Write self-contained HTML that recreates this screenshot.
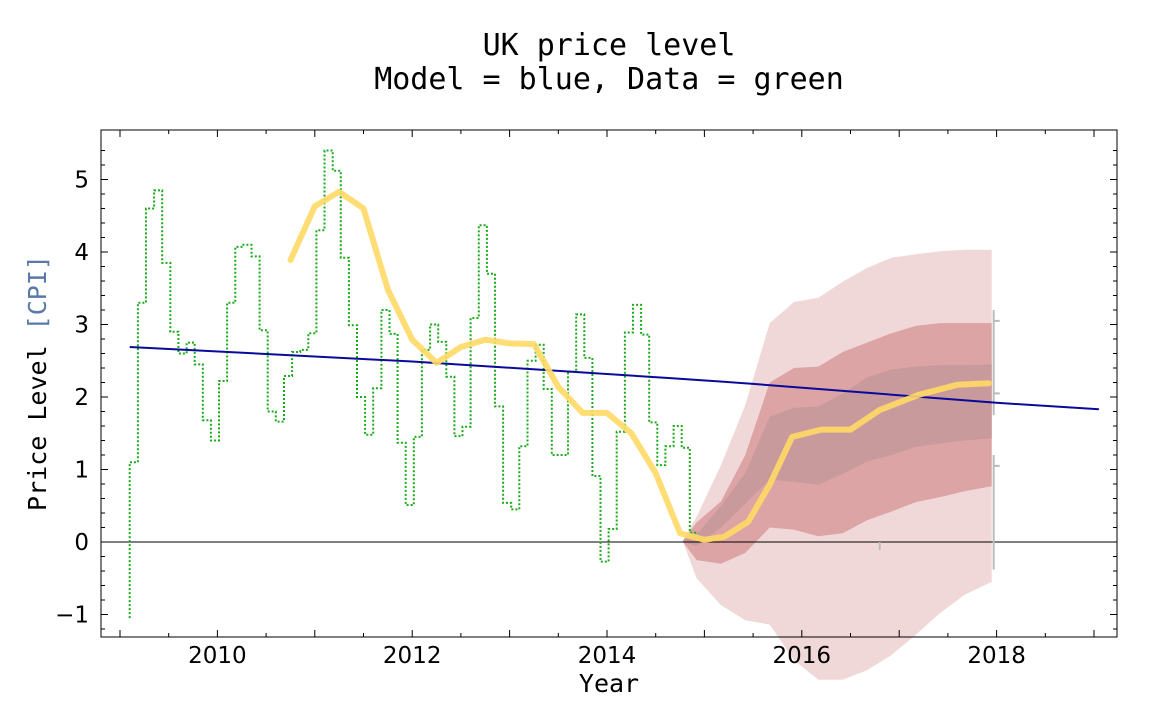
<!DOCTYPE html>
<html><head><meta charset="utf-8"><style>
html,body{margin:0;padding:0;background:#fff;}
svg{display:block;font-family:"DejaVu Sans Mono","Liberation Mono",monospace;}
</style></head><body>
<svg id="chart" width="1152" height="727" viewBox="0 0 1152 727" xmlns="http://www.w3.org/2000/svg">
<text x="609" y="55" text-anchor="middle" font-size="30">UK price level</text>
<text x="609" y="89" text-anchor="middle" font-size="30">Model = blue, Data = green</text>
<text x="609" y="692" text-anchor="middle" font-size="25">Year</text>
<text transform="translate(46,383) rotate(-90)" text-anchor="middle" font-size="25">Price Level <tspan fill="#5a78a8">[CPI]</tspan></text>
<g id="plot"></g>
</svg>
<script>
// ---- data ----
const dataStart = 2009.1;
const dataFirst = -1.05;
const cpiData = [1.1,3.3,4.6,4.85,3.85,2.9,2.6,2.75,2.45,1.68,
1.4,2.22,3.3,4.07,4.1,3.94,2.92,1.8,1.66,2.29,
2.62,2.65,2.88,4.3,5.4,5.12,3.92,2.99,2.0,1.48,
2.12,3.2,2.87,1.37,0.51,1.45,2.65,3.0,2.76,2.28,
1.46,1.59,3.09,4.37,3.7,1.87,0.54,0.45,1.32,2.5,
2.72,2.11,1.2,1.2,2.35,3.14,2.54,0.91,-0.27,0.18,
1.52,2.89,3.27,2.86,1.65,1.06,1.32,1.6,1.3,0.13];
const smoothYears = [2010.75,2011,2011.25,2011.5,2011.75,2012,2012.25,2012.5,2012.75,2013,2013.25,2013.5,2013.75,2014,2014.25,2014.5,2014.75,2015,2015.2,2015.45,2015.67,2015.9,2016.2,2016.5,2016.8,2017.2,2017.6,2017.92];
const smoothValues = [3.89,4.63,4.83,4.6,3.48,2.79,2.47,2.69,2.79,2.74,2.73,2.14,1.78,1.78,1.5,0.95,0.12,0.03,0.07,0.28,0.79,1.45,1.55,1.55,1.82,2.03,2.17,2.19];
const modelYears = [2009.1,2012,2014.65,2015.2,2015.5,2018,2019.05];
const modelValues = [2.69,2.49,2.26,2.21,2.18,1.92,1.83];
const fanYears = [2014.78,2014.92,2015.17,2015.42,2015.67,2015.92,2016.17,2016.42,2016.67,2016.92,2017.17,2017.42,2017.67,2017.95];
const outerHigh = [0.02,0.35,1.06,1.89,3.02,3.31,3.37,3.59,3.78,3.92,3.97,4.01,4.03,4.03];
const outerLow = [0.0,-0.5,-0.87,-1.08,-1.14,-1.63,-1.9,-1.9,-1.77,-1.56,-1.28,-0.98,-0.73,-0.55];
const midHigh = [0.02,0.27,0.56,1.2,2.2,2.4,2.42,2.62,2.75,2.88,2.98,3.02,3.02,3.02];
const midLow = [0.0,-0.25,-0.3,-0.15,0.2,0.17,0.08,0.12,0.3,0.42,0.55,0.62,0.7,0.77];
const innerHigh = [0.02,0.1,0.5,0.95,1.73,1.85,1.87,2.05,2.27,2.38,2.42,2.44,2.44,2.45];
const innerLow = [0.0,-0.05,0.2,0.53,0.86,0.83,0.79,0.94,1.11,1.2,1.31,1.36,1.4,1.43];
const xTickYears = [2010,2012,2014,2016,2018];
const yTickValues = [-1,0,1,2,3,4,5];

// ---- axes ----
const L=101,R=1117,T=130,B=637;
const X = y => 120 + (y-2009)*97.4;
const Y = v => 542 - v*72.5;
const NS="http://www.w3.org/2000/svg";
const g=document.getElementById('plot');
function mk(tag,attrs,parent){const e=document.createElementNS(NS,tag);for(const k in attrs)e.setAttribute(k,attrs[k]);(parent||g).appendChild(e);return e;}
function pathFrom(xs,ys){return xs.map((x,i)=>(i?'L':'M')+X(x).toFixed(1)+','+Y(ys[i]).toFixed(1)).join('');}
function band(xs,hi,lo,fill,name){
  let d=pathFrom(xs,hi);
  for(let i=xs.length-1;i>=0;i--)d+='L'+X(xs[i]).toFixed(1)+','+Y(lo[i]).toFixed(1);
  const p=mk('path',{d:d+'Z',fill:fill});
  
  
}
band(fanYears,outerHigh,outerLow,'#f0d8d9','fan-outer-band');
band(fanYears,midHigh,midLow,'#dca4a5','fan-middle-band');
band(fanYears,innerHigh,innerLow,'#c99a9b','fan-inner-band');

// zero line
const z=mk('line',{x1:L,x2:R,y1:Y(0),y2:Y(0),stroke:'#000','stroke-width':1});



// error bars (gray)
const eb=mk('path',{d:`M${X(2017.97)},${Y(3.2)}V${Y(1.75)}M${X(2017.97)},${Y(3.05)}h6M${X(2017.97)},${Y(2.05)}h6M${X(2017.97)},${Y(1.2)}V${Y(-0.38)}M${X(2017.97)},${Y(1.05)}h6M${X(2016.8)},${Y(0)}v8`,stroke:'#bbb','stroke-width':2,fill:'none'});



// green data step line
let d='M'+X(dataStart).toFixed(1)+','+Y(dataFirst).toFixed(1);
cpiData.forEach((v,i)=>{const x0=X(dataStart+i/12),x1=X(dataStart+(i+1)/12);d+='L'+x0.toFixed(1)+','+Y(v).toFixed(1)+'L'+x1.toFixed(1)+','+Y(v).toFixed(1);});
const gl=mk('path',{d:d,fill:'none',stroke:'#1aaa1a','stroke-width':2,'stroke-dasharray':'2,2'});



// blue model
const bl=mk('path',{d:pathFrom(modelYears,modelValues),fill:'none',stroke:'#0a0a9a','stroke-width':2});



// yellow smooth
const yl=mk('path',{d:pathFrom(smoothYears,smoothValues),fill:'none',stroke:'#ffd966','stroke-opacity':0.9,'stroke-width':6,'stroke-linejoin':'round','stroke-linecap':'round'});



// frame
const fr=mk('rect',{x:L,y:T,width:R-L,height:B-T,fill:'none',stroke:'#000','stroke-width':1});



// ticks
let td='';
for(let yr=2009;yr<=2019.01;yr+=0.5){const x=X(yr).toFixed(1);const len=(Math.abs(yr-Math.round(yr))<0.01)?7:4;td+=`M${x},${B}v${-len}M${x},${T}v${len}`;}
for(let k=-6;k<=27;k++){const v=k*0.2;const y=Y(v);if(y<T||y>B)continue;const len=(k%5===0)?7:4;td+=`M${L},${y.toFixed(1)}h${len}M${R},${y.toFixed(1)}h${-len}`;}
const tk=mk('path',{d:td,stroke:'#000','stroke-width':1,fill:'none'});



xTickYears.forEach(yr=>{
  const t=mk('text',{x:X(yr),y:663,'text-anchor':'middle','font-size':23,'font-family':'DejaVu Sans, sans-serif'});
  t.textContent=yr;
  
  
});
yTickValues.forEach(v=>{
  const t=mk('text',{x:89,y:Y(v)+8,'text-anchor':'end','font-size':23,'font-family':'DejaVu Sans, sans-serif'});
  t.textContent=v<0?'\u2212'+(-v):v;
  
  
});
</script>
</body></html>
